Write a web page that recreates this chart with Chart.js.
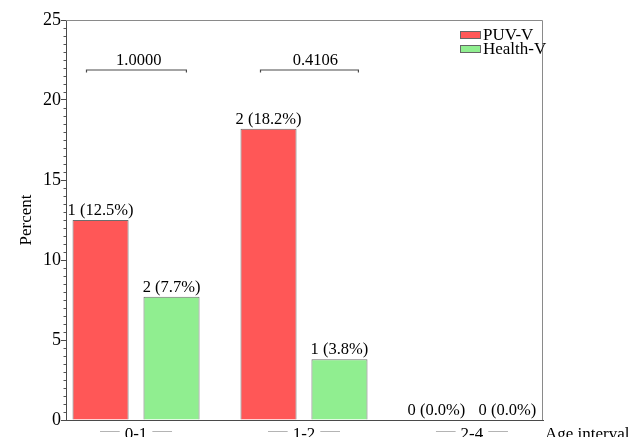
<!DOCTYPE html>
<html>
<head>
<meta charset="utf-8">
<script src="https://cdn.jsdelivr.net/npm/chart.js@4.4.1/dist/chart.umd.min.js"></script>
<style>
  html, body { margin: 0; padding: 0; background: #fff; }
  #wrap { width: 636px; height: 437px; }
</style>
</head>
<body>
<div id="wrap"><canvas id="c"></canvas></div>
<script>
// Age groups and the two series (patient count and percent per group)
const ageGroups = ['0-1', '1-2', '2-4'];
const seriesNames = ['PUV-V', 'Health-V'];
const puvCounts = [1, 2, 0];
const puvPercent = [12.5, 18.2, 0.0];
const healthCounts = [2, 1, 0];
const healthPercent = [7.7, 3.8, 0.0];
const yTicks = [0, 5, 10, 15, 20, 25];

// Between-group p-values, with the bracket extents in x-axis units
const pValueLabels = ['1.0000', '0.4106'];
const pBracketFrom = [-0.295, 0.741];
const pBracketTo = [0.300, 1.324];
const pTextAt = [0.016, 1.068];
const pBracketLevel = 21.875;

const SERIF = "'Liberation Serif', 'Times New Roman', serif";
const RED = '#ff5757';
const GREEN = '#90ee90';

function bracketPoints(k) {
  const drop = 0.15;
  return [
    { x: pBracketFrom[k], y: pBracketLevel - drop },
    { x: pBracketFrom[k], y: pBracketLevel },
    { x: pBracketTo[k], y: pBracketLevel },
    { x: pBracketTo[k], y: pBracketLevel - drop }
  ];
}

const bracketSets = pValueLabels.map((_, k) => ({
  type: 'line',
  data: bracketPoints(k),
  borderColor: '#4a4a4a',
  borderWidth: 1.2,
  pointRadius: 0,
  fill: false,
  tension: 0
}));

const decor = {
  id: 'decor',
  beforeDatasetsDraw(chart) {
    const { ctx, chartArea: a } = chart;
    ctx.save();
    // top and right edges of the frame
    ctx.strokeStyle = '#8a8a8a';
    ctx.lineWidth = 1;
    ctx.beginPath();
    ctx.moveTo(a.left, a.top + 0.5);
    ctx.lineTo(a.right - 0.5, a.top + 0.5);
    ctx.lineTo(a.right - 0.5, a.bottom);
    ctx.stroke();
    // minor ticks on the percent axis
    const y = chart.scales.y;
    ctx.strokeStyle = '#555';
    ctx.beginPath();
    for (let v = 0.5; v < 25; v += 0.5) {
      if (v % 5 === 0) continue;
      const py = Math.round(y.getPixelForValue(v)) + 0.5;
      ctx.moveTo(a.left - 2.5, py);
      ctx.lineTo(a.left, py);
    }
    ctx.stroke();
    ctx.restore();
  },
  afterDraw(chart) {
    const { ctx, chartArea: a } = chart;
    const xs = chart.scales.x, ys = chart.scales.y;
    ctx.save();
    ctx.fillStyle = '#000';

    // value labels above the bars
    ctx.font = '16.5px ' + SERIF;
    ctx.textAlign = 'center';
    ctx.textBaseline = 'alphabetic';
    const counts = [puvCounts, healthCounts];
    const pcts = [puvPercent, healthPercent];
    [0, 1].forEach(di => {
      chart.getDatasetMeta(di).data.forEach((bar, i) => {
        ctx.fillText(counts[di][i] + ' (' + pcts[di][i].toFixed(1) + '%)', bar.x, bar.y - 5);
      });
    });

    // p-values over the brackets
    pValueLabels.forEach((t, k) => {
      ctx.fillText(t, xs.getPixelForValue(pTextAt[k]), ys.getPixelForValue(pBracketLevel) - 5);
    });

    // short rules either side of each age label
    ctx.font = '17px ' + SERIF;
    ctx.strokeStyle = '#b4b4b4';
    ctx.lineWidth = 1;
    ageGroups.forEach((lab, i) => {
      const c = xs.getPixelForValue(i);
      const w = ctx.measureText(lab).width;
      const ly = a.bottom + 11.5;
      ctx.beginPath();
      ctx.moveTo(c - 36, ly); ctx.lineTo(c - w / 2 - 5, ly);
      ctx.moveTo(c + w / 2 + 5, ly); ctx.lineTo(c + 36, ly);
      ctx.stroke();
    });

    // x-axis title to the right of the axis
    ctx.textAlign = 'left';
    ctx.fillText('Age interval', a.right + 2, a.bottom + 19);

    // legend in the top-right corner
    const rows = [[seriesNames[0], RED], [seriesNames[1], GREEN]];
    rows.forEach(([name, col], r) => {
      const cy = a.top + 15 + r * 14;
      ctx.fillStyle = col;
      ctx.fillRect(a.right - 83, cy - 4, 21, 8);
      ctx.strokeStyle = '#666';
      ctx.strokeRect(a.right - 82.5, cy - 3.5, 20, 7);
      ctx.fillStyle = '#000';
      ctx.textBaseline = 'middle';
      ctx.fillText(name, a.right - 60, cy + 1);
    });
    ctx.restore();
  }
};

new Chart(document.getElementById('c'), {
  type: 'bar',
  data: {
    datasets: [
      {
        label: seriesNames[0],
        data: puvPercent.map((v, i) => ({ x: i, y: v })),
        backgroundColor: RED,
        borderColor: '#6e6e6e',
        borderWidth: 1
      },
      {
        label: seriesNames[1],
        data: healthPercent.map((v, i) => ({ x: i, y: v })),
        backgroundColor: GREEN,
        borderColor: '#6e6e6e',
        borderWidth: 1
      },
      ...bracketSets
    ]
  },
  options: {
    responsive: true,
    maintainAspectRatio: false,
    animation: false,
    devicePixelRatio: 1,
    categoryPercentage: 0.845,
    barPercentage: 0.79,
    layout: { padding: { left: 0, top: 20, right: 93, bottom: 0 } },
    plugins: { legend: { display: false }, tooltip: { enabled: false } },
    scales: {
      x: {
        type: 'linear',
        offset: false,
        min: -0.417,
        max: 2.423,
        afterBuildTicks: s => { s.ticks = ageGroups.map((_, i) => ({ value: i })); },
        afterFit: s => { s.height = 17; },
        grid: { display: false, drawTicks: false },
        border: { display: true, color: '#4a4a4a', width: 1 },
        ticks: {
          autoSkip: false,
          maxRotation: 0,
          padding: 4,
          color: '#000',
          font: { family: SERIF, size: 17 },
          callback: v => ageGroups[v] ?? ''
        }
      },
      y: {
        min: 0,
        max: 25,
        afterBuildTicks: s => { s.ticks = yTicks.map(v => ({ value: v })); },
        afterFit: s => { s.width = 66; },
        grid: { display: true, drawOnChartArea: false, drawTicks: true, tickLength: 5, tickColor: '#4a4a4a' },
        border: { display: true, color: '#4a4a4a', width: 1 },
        ticks: {
          padding: 0,
          color: '#000',
          font: { family: SERIF, size: 18 }
        },
        title: {
          display: true,
          text: 'Percent',
          color: '#000',
          font: { family: SERIF, size: 17, lineHeight: 1.2 },
          padding: { top: 16, bottom: 0 }
        }
      }
    }
  },
  plugins: [decor]
});
</script>
</body>
</html>
